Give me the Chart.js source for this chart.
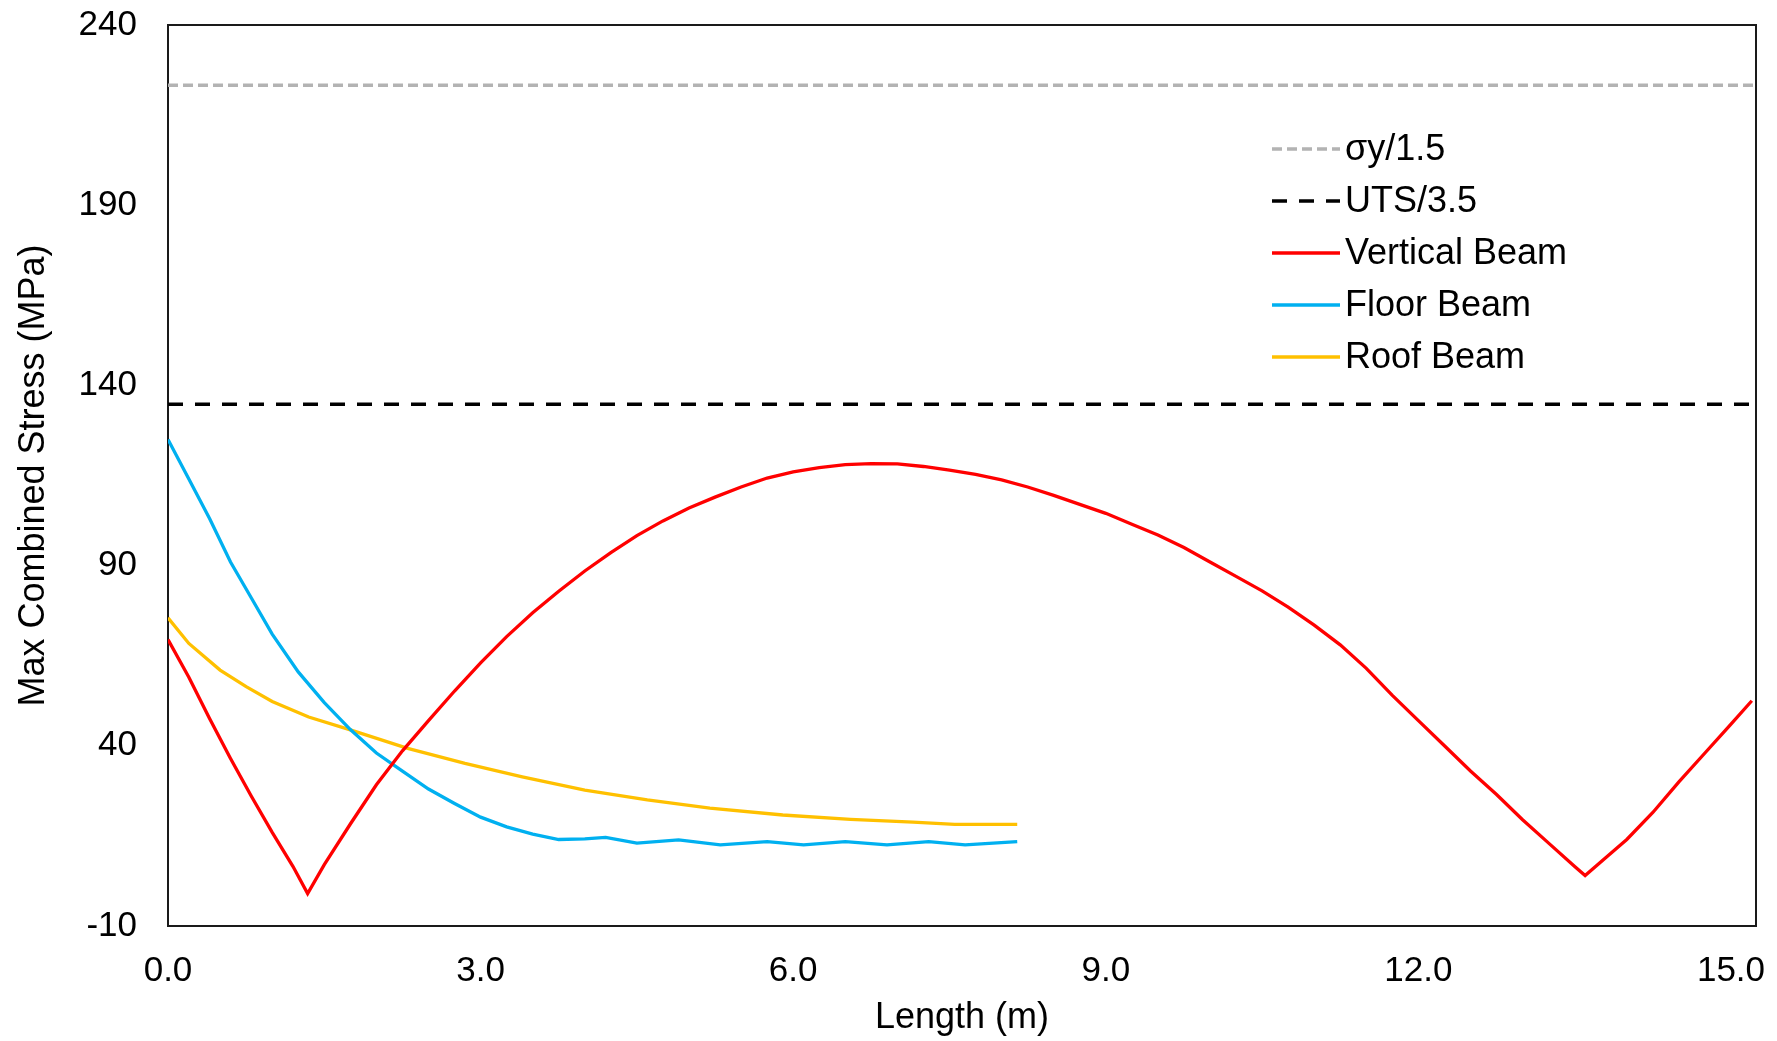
<!DOCTYPE html>
<html>
<head>
<meta charset="utf-8">
<script src="https://cdn.jsdelivr.net/npm/chart.js@4.4.1/dist/chart.umd.min.js"></script>
<style>
  html, body { margin: 0; padding: 0; background: #ffffff; }
  #wrap { width: 1777px; height: 1041px; position: relative; }
</style>
</head>
<body>
<div id="wrap"><canvas id="c" width="1777" height="1041"></canvas></div>
<script>
// ---- Data ----
const xTicks = [0, 3, 6, 9, 12, 15];
const yTicks = [-10, 40, 90, 140, 190, 240];
const xAxisRange = [0, 15.24];

const limitX = [0, 15.24];
const yieldLimit = [223.3, 223.3];   // σy/1.5
const utsLimit = [134.8, 134.8];     // UTS/3.5

const verticalX = [0, 0.2, 0.4, 0.6, 0.8, 1.0, 1.2, 1.34, 1.5, 1.75, 2.0, 2.25, 2.5, 2.75, 3.0, 3.25, 3.5, 3.75,
  4.0, 4.25, 4.5, 4.75, 5.0, 5.25, 5.5, 5.75, 6.0, 6.25, 6.5, 6.75, 7.0, 7.25, 7.5, 7.75, 8.0, 8.25, 8.5, 8.75,
  9.0, 9.25, 9.5, 9.75, 10.0, 10.25, 10.5, 10.75, 11.0, 11.25, 11.5, 11.75, 12.0, 12.25, 12.5, 12.75, 13.0,
  13.25, 13.5, 13.6, 13.8, 14.0, 14.25, 14.5, 14.75, 15.0, 15.2];
const verticalY = [69.5, 59, 47.5, 36.5, 26, 16, 6.5, -1, 7, 18.3, 29.2, 38.6, 47, 55.2, 63, 70.3, 76.9, 82.9,
  88.5, 93.6, 98.3, 102.4, 106, 109, 111.8, 114.3, 116, 117.2, 118, 118.3, 118.2, 117.5, 116.5, 115.3, 113.8, 111.8, 109.5, 107,
  104.5, 101.5, 98.5, 95, 91, 87, 83, 78.5, 73.5, 68, 61.5, 54, 47, 40, 33, 26.5, 19.5,
  13, 6.5, 4, 9, 14, 21.5, 30, 38, 46, 52.5];

const floorX = [0, 0.2, 0.4, 0.6, 0.8, 1.0, 1.25, 1.5, 1.75, 2.0, 2.25, 2.5, 2.75, 3.0, 3.25, 3.5, 3.75,
  4.0, 4.2, 4.5, 4.9, 5.3, 5.75, 6.1, 6.5, 6.9, 7.3, 7.65, 8.15];
const floorY = [125, 114, 103, 91, 81, 71, 60.5, 52, 44.5, 38, 33, 28, 24, 20.2, 17.5, 15.5, 14,
  14.2, 14.6, 13, 13.9, 12.5, 13.4, 12.5, 13.4, 12.5, 13.4, 12.5, 13.4];

const roofX = [0, 0.2, 0.5, 0.75, 1.0, 1.35, 1.75, 2.3, 2.85, 3.4, 4.0, 4.6, 5.2, 5.9, 6.55, 7.15, 7.55, 8.15];
const roofY = [75.5, 68.4, 61, 56.4, 52.3, 48, 44.4, 39.3, 35.1, 31.4, 27.7, 25, 22.7, 20.8, 19.6, 18.8, 18.2, 18.2];

const seriesNames = ['σy/1.5', 'UTS/3.5', 'Vertical Beam', 'Floor Beam', 'Roof Beam'];
const xTitle = 'Length (m)';
const yTitle = 'Max Combined Stress (MPa)';

// ---- Build ----
const pts = (xs, ys) => xs.map((x, i) => ({ x: x, y: ys[i] }));
const FONT = '"Liberation Sans", Arial, sans-serif';

const frame = {
  id: 'frame',
  beforeDatasetsDraw(chart) {
    const a = chart.chartArea, ctx = chart.ctx;
    ctx.save();
    ctx.strokeStyle = '#1a1a1a';
    ctx.lineWidth = 2;
    ctx.strokeRect(a.left, a.top, a.right - a.left, a.bottom - a.top);
    ctx.restore();
  }
};

const legendBox = {
  id: 'legendBox',
  afterDraw(chart) {
    const ctx = chart.ctx;
    const x0 = 1272, lineLen = 68, textGap = 5, y0 = 149, rowH = 52;
    ctx.save();
    ctx.font = '36px ' + FONT;
    ctx.textBaseline = 'middle';
    ctx.textAlign = 'left';
    chart.data.datasets.forEach((ds, i) => {
      const y = y0 + i * rowH;
      ctx.strokeStyle = ds.borderColor;
      ctx.lineWidth = ds.borderWidth;
      ctx.setLineDash(ds.borderDash || []);
      ctx.beginPath();
      ctx.moveTo(x0, y);
      ctx.lineTo(x0 + lineLen, y);
      ctx.stroke();
      ctx.setLineDash([]);
      ctx.fillStyle = '#000';
      ctx.fillText(ds.label, x0 + lineLen + textGap, y + 1);
    });
    ctx.restore();
  }
};

const common = { showLine: true, pointRadius: 0, pointHoverRadius: 0, tension: 0, fill: false };

new Chart(document.getElementById('c'), {
  type: 'scatter',
  data: {
    datasets: [
      Object.assign({ label: seriesNames[0], data: pts(limitX, yieldLimit), borderColor: '#b3b3b3', borderWidth: 3.5, borderDash: [10, 5] }, common),
      Object.assign({ label: seriesNames[1], data: pts(limitX, utsLimit), borderColor: '#000000', borderWidth: 3.5, borderDash: [15, 12] }, common),
      Object.assign({ label: seriesNames[2], data: pts(verticalX, verticalY), borderColor: '#ff0000', borderWidth: 3.3 }, common),
      Object.assign({ label: seriesNames[3], data: pts(floorX, floorY), borderColor: '#00b0f0', borderWidth: 3.3 }, common),
      Object.assign({ label: seriesNames[4], data: pts(roofX, roofY), borderColor: '#ffc000', borderWidth: 3.3 }, common)
    ]
  },
  options: {
    responsive: false,
    animation: false,
    devicePixelRatio: 1,
    layout: { padding: { left: 0, right: 21, top: 25, bottom: 0 } },
    plugins: { legend: { display: false }, tooltip: { enabled: false }, title: { display: false } },
    scales: {
      x: {
        type: 'linear',
        min: xAxisRange[0], max: xAxisRange[1],
        afterBuildTicks: (s) => { s.ticks = xTicks.map(v => ({ value: v })); },
        afterFit: (s) => { s.height = 115; s.paddingLeft = 0; s.paddingRight = 0; },
        grid: { display: false, drawTicks: false },
        border: { display: false },
        ticks: { padding: 24, color: '#000', font: { family: FONT, size: 35 }, maxRotation: 0, autoSkip: false,
                 callback: (v) => Number(v).toFixed(1) },
        title: { display: true, text: xTitle, color: '#000', font: { family: FONT, size: 36 }, padding: { top: 0, bottom: 1 } }
      },
      y: {
        type: 'linear',
        min: yTicks[0], max: yTicks[yTicks.length - 1],
        afterBuildTicks: (s) => { s.ticks = yTicks.map(v => ({ value: v })); },
        afterFit: (s) => { s.width = 168; s.paddingTop = 0; s.paddingBottom = 0; },
        grid: { display: false, drawTicks: false },
        border: { display: false },
        ticks: { padding: 31, color: '#000', font: { family: FONT, size: 35 }, autoSkip: false },
        title: { display: true, text: yTitle, color: '#000', font: { family: FONT, size: 36 }, padding: { top: 12, bottom: 0 } }
      }
    }
  },
  plugins: [frame, legendBox]
});
</script>
</body>
</html>
